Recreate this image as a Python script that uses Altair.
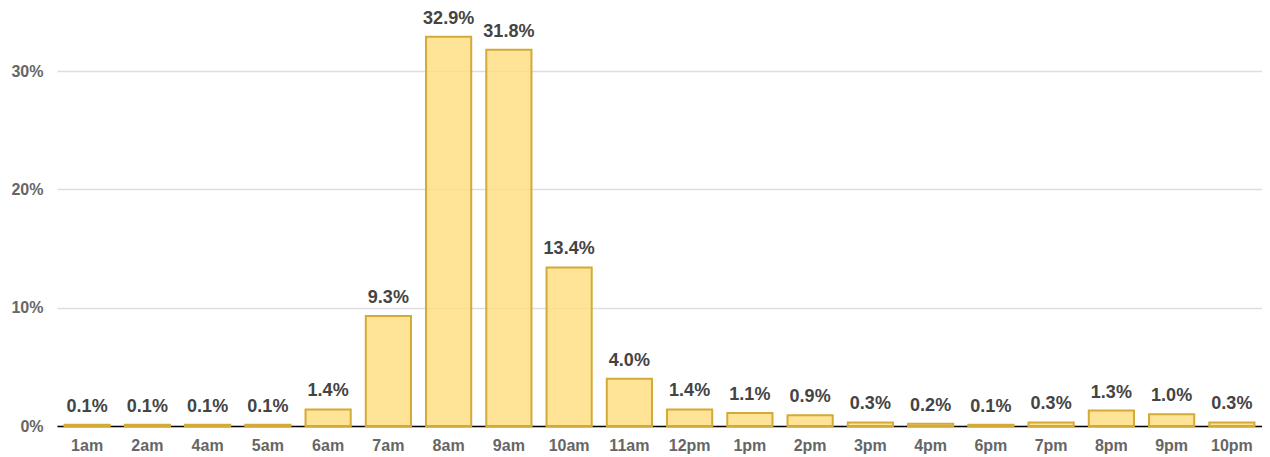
import altair as alt
import pandas as pd

hours = ["1am", "2am", "4am", "5am", "6am", "7am", "8am", "9am", "10am", "11am",
         "12pm", "1pm", "2pm", "3pm", "4pm", "6pm", "7pm", "8pm", "9pm", "10pm"]
shares = [0.1, 0.1, 0.1, 0.1, 1.4, 9.3, 32.9, 31.8, 13.4, 4.0,
          1.4, 1.1, 0.9, 0.3, 0.2, 0.1, 0.3, 1.3, 1.0, 0.3]
y_ticks = [0, 10, 20, 30]

df = pd.DataFrame({"hour": hours, "share": shares})
df["label"] = [f"{v:.1f}%" for v in shares]

FONT = "Liberation Sans"

x = alt.X("hour:N", sort=hours, title=None,
          scale=alt.Scale(paddingInner=0.25, paddingOuter=0.125),
          axis=alt.Axis(labelAngle=0, labelFont=FONT, labelFontSize=16,
                        labelFontWeight="bold", labelColor="#666666",
                        labelPadding=11, ticks=False, domainColor="#000000",
                        domainWidth=1.5, grid=False))
y = alt.Y("share:Q", title=None,
          scale=alt.Scale(domain=[0, 35], nice=False),
          axis=alt.Axis(values=y_ticks, labelExpr="datum.value + '%'",
                        labelFont=FONT, labelFontSize=16, labelFontWeight="bold",
                        labelColor="#666666", labelPadding=14, ticks=False,
                        domain=False, gridColor="#dddddd", gridWidth=1.5))

bars = alt.Chart(df).mark_bar(
    fill="#FFDD80", fillOpacity=0.82, stroke="#D4AA36", strokeWidth=2
).encode(x=x, y=y)

labels = alt.Chart(df).mark_text(
    font=FONT, fontSize=18, fontWeight="bold", color="#444444",
    baseline="alphabetic", dy=-13
).encode(x=alt.X("hour:N", sort=hours), y="share:Q", text="label:N")

chart = alt.layer(bars, labels).properties(
    width=1205, height=414,
    autosize=alt.AutoSizeParams(type="none"),
    padding={"left": 49, "top": 4, "right": 0, "bottom": 30},
    background="#ffffff"
).configure_view(stroke=None)

chart.save("out.html", embed_options={"renderer": "svg", "actions": False})
